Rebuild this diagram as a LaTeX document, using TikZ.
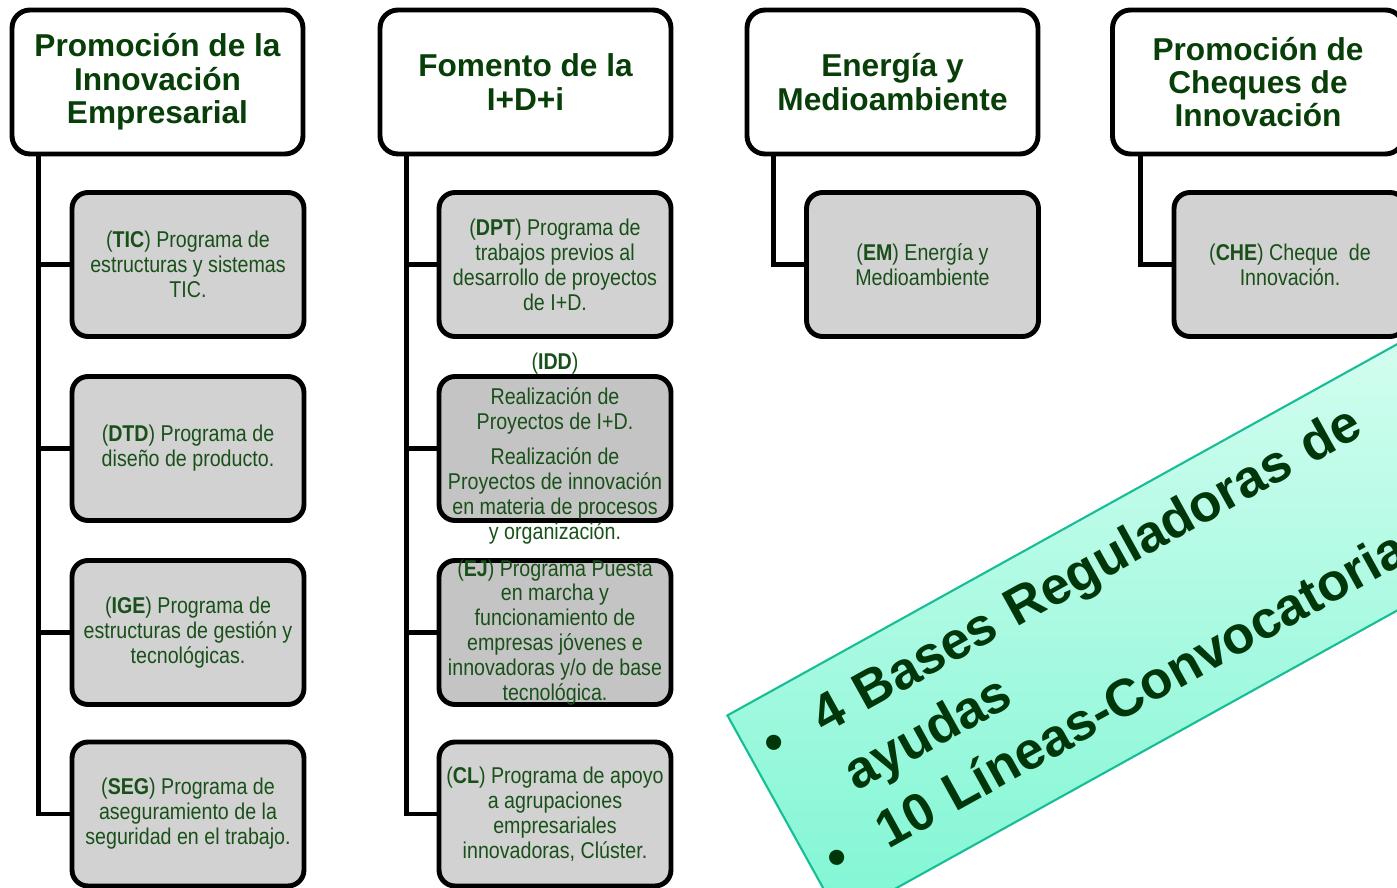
\documentclass[tikz,border=0pt]{standalone}
\usepackage{fontspec}
\setmainfont{Liberation Sans}
\newfontfamily\narrowfont[FakeStretch=0.86]{Liberation Sans}
\usetikzlibrary{calc}

\definecolor{verdeTitulo}{RGB}{8,62,8}
\definecolor{verdeTexto}{RGB}{25,80,25}
\definecolor{verdeBanda}{RGB}{0,55,10}
\definecolor{grisCaja}{RGB}{210,210,210}
\definecolor{grisOscuro}{RGB}{196,196,196}
\definecolor{mentaClaro}{RGB}{232,255,246}
\definecolor{mentaFuerte}{RGB}{128,246,212}
\definecolor{bordeMenta}{RGB}{22,190,150}

\tikzset{
  eje/.style={draw=black, line width=2.8pt, fill=white, rounded corners=0.36cm,
    minimum width=5.82cm, minimum height=2.88cm, align=center,
    text=verdeTitulo, font=\fontsize{18}{19}\selectfont\bfseries},
  caja/.style={draw=black, line width=2.8pt, fill=grisCaja, rounded corners=0.32cm,
    minimum width=4.64cm, minimum height=2.88cm},
  texto/.style={align=center, text=verdeTexto, inner sep=0pt,
    font=\narrowfont\fontsize{13}{14.2}\selectfont},
  enlace/.style={line width=2.8pt, black},
  banda/.style={draw=bordeMenta, line width=1.2pt, top color=mentaClaro,
    bottom color=mentaFuerte, text=verdeBanda, align=left, text width=21cm,
    inner xsep=0.36cm, minimum height=4.66cm,
    font=\fontsize{30}{37.5}\selectfont\bfseries}
}

\begin{document}
\begin{tikzpicture}[x=0.02cm, y=-0.02cm]
  \useasboundingbox (0,0) rectangle (1397,888);
  \clip (0,0) rectangle (1397,888);

  % Ejes principales
  \node[eje] (promo) at (157.5,82) {Promoción de la\\Innovación\\Empresarial};
  \node[eje] (fomento) at (525.5,82) {Fomento de la\\I+D+i};
  \node[eje] (energia) at (892.5,82) {Energía y\\Medioambiente};
  \node[eje] (cheques) at (1258,82) {Promoción de\\Cheques de\\Innovación};

  % Programas de Promoción de la Innovación Empresarial
  \node[caja] (tic) at (188,264.5) {};
  \node[texto] (tic-t) at (tic) {(\textbf{TIC}) Programa de\\estructuras y sistemas\\TIC.};
  \node[caja] (dtd) at (188,448.5) {};
  \node[texto] (dtd-t) at (dtd) {(\textbf{DTD}) Programa de\\diseño de producto.};
  \node[caja] (ige) at (188,632.5) {};
  \node[texto] (ige-t) at (ige) {(\textbf{IGE}) Programa de\\estructuras de gestión y\\tecnológicas.};
  \node[caja] (seg) at (188,814) {};
  \node[texto] (seg-t) at (seg) {(\textbf{SEG}) Programa de\\aseguramiento de la\\seguridad en el trabajo.};

  % Programas de Fomento de la I+D+i
  \node[caja] (dpt) at (555,264.5) {};
  \node[texto] (dpt-t) at (dpt) {(\textbf{DPT}) Programa de\\trabajos previos al\\desarrollo de proyectos\\de I+D.};
  \node[caja, fill=grisOscuro] (idd) at (555,448.5) {};
  \node[texto] (idd-t) at (idd) {(\textbf{IDD})\\[6pt]Realización de\\Proyectos de I+D.\\[6pt]Realización de\\Proyectos de innovación\\en materia de procesos\\y organización.};
  \node[caja, fill=grisOscuro] (ej) at (555,632.5) {};
  \node[texto] (ej-t) at (ej) {(\textbf{EJ}) Programa Puesta\\en marcha y\\funcionamiento de\\empresas jóvenes e\\innovadoras y/o de base\\tecnológica.};
  \node[caja] (cl) at (555,814) {};
  \node[texto] (cl-t) at (cl) {(\textbf{CL}) Programa de apoyo\\a agrupaciones\\empresariales\\innovadoras, Clúster.};

  % Energía y cheques
  \node[caja] (em) at (922.5,264.5) {};
  \node[texto] (em-t) at (em) {(\textbf{EM}) Energía y\\Medioambiente};
  \node[caja] (che) at (1290,264.5) {};
  \node[texto] (che-t) at (che) {(\textbf{CHE}) Cheque\ \ de\\Innovación.};

  % Conectores
  \foreach \hijo in {tic,dtd,ige,seg}
    \draw[enlace] ($(promo.south west)+(29,0)$) |- (\hijo.west);
  \foreach \hijo in {dpt,idd,ej,cl}
    \draw[enlace] ($(fomento.south west)+(29,0)$) |- (\hijo.west);
  \draw[enlace] ($(energia.south west)+(29,0)$) |- (em.west);
  \draw[enlace] ($(cheques.south west)+(30,0)$) |- (che.west);

  % Banda de resumen
  \node[banda, rotate=29, anchor=north west] (bases) at (726,715) {%
    \begin{tabular}{@{}p{1.16cm}@{}l@{}}
      \textbullet & 4 Bases Reguladoras de\\
                  & ayudas\\
      \textbullet & 10 Líneas-Convocatoria
    \end{tabular}};
\end{tikzpicture}
\end{document}
